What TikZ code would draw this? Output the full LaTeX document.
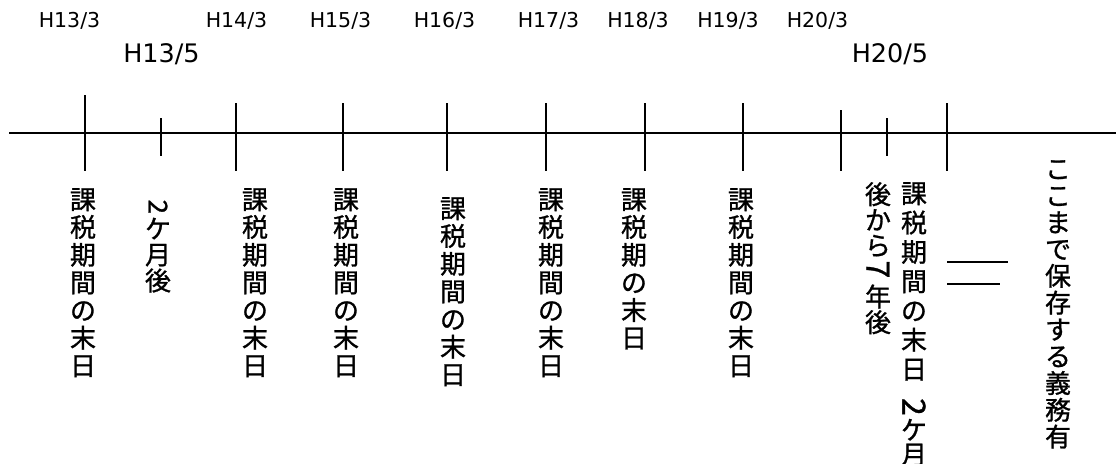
\documentclass[tikz,border=0pt]{standalone}
\usepackage{fontspec}
\usepackage{graphicx}
\newfontfamily\jpf[FakeBold=1]{Noto Sans CJK JP}
\newfontfamily\latf{DejaVu Sans}
\newcommand\rotdig[1]{\rotatebox[origin=c]{-90}{#1}}
\newcommand\bigdig[1]{\rotatebox[origin=c]{-90}{\fontsize{32}{32}\selectfont #1}}
\tikzset{
  axis/.style={line width=2.6pt},
  tickmark/.style={line width=2.4pt},
  small/.style={anchor=base, inner sep=0, font=\latf\fontsize{20.5}{20.5}\selectfont},
  big/.style={anchor=base, inner sep=0, font=\latf\fontsize{25.5}{25.5}\selectfont},
  tate/.style={anchor=north, inner sep=0, align=center, font=\jpf\fontsize{26}{27.7}\selectfont},
  eqline/.style={line width=2.2pt}
}
\begin{document}
\begin{tikzpicture}[x=1pt,y=-1pt]
\useasboundingbox (0,0) rectangle (1116,463);
% top labels
\node[small] (l1) at (69.5,27.5) {H13/3};
\node[small] (l2) at (236.5,27.5) {H14/3};
\node[small] (l3) at (340.5,27.5) {H15/3};
\node[small] (l4) at (444.5,27.5) {H16/3};
\node[small] (l5) at (548.5,27.5) {H17/3};
\node[small] (l6) at (638,27.5) {H18/3};
\node[small] (l7) at (728,27.5) {H19/3};
\node[small] (l8) at (817.5,27.5) {H20/3};
\node[big] (b1) at (161.5,62) {H13/5};
\node[big] (b2) at (890,62) {H20/5};
% axis
\draw[axis] (9,133) -- (1116,133);
% ticks
\draw[tickmark] (85,95) -- (85,170.5);
\draw[tickmark] (160.7,118) -- (160.7,155.5);
\foreach \x in {236,343,447,546,645,743,947}
  \draw[tickmark] (\x,103) -- (\x,170.5);
\draw[tickmark] (841,110) -- (841,170.5);
\draw[tickmark] (887,118) -- (887,155.5);
% vertical labels
\node[tate] (t1) at (83,188) {課\\税\\期\\間\\の\\末\\日};
\node[tate, font=\jpf\fontsize{26}{26}\selectfont] (t2) at (158,199.4) {\rotdig{2}\\[-3.9pt]ケ\\月\\後};
\node[tate] (t3) at (255,188) {課\\税\\期\\間\\の\\末\\日};
\node[tate] (t4) at (346,188) {課\\税\\期\\間\\の\\末\\日};
\node[tate] (t5) at (453,197) {課\\税\\期\\間\\の\\末\\日};
\node[tate] (t6) at (551,188) {課\\税\\期\\間\\の\\末\\日};
\node[tate] (t7) at (634,188) {課\\税\\期\\の\\末\\日};
\node[tate] (t8) at (741,188) {課\\税\\期\\間\\の\\末\\日};
\node[tate, font=\jpf\fontsize{26}{25.6}\selectfont] (t9) at (878,182) {後\\か\\ら\\\bigdig{7}\\年\\後};
\node[tate, font=\jpf\fontsize{26}{29.3}\selectfont] (t10) at (914,182) {課\\税\\期\\間\\の\\末\\日\\[10.3pt]\bigdig{2}\\[-8.3pt]ケ\\[-4.7pt]月};
\node[tate, font=\jpf\fontsize{26}{26.8}\selectfont] (t11) at (1058,160) {こ\\こ\\ま\\で\\保\\存\\す\\る\\義\\務\\有};
% equals sign
\draw[eqline] (947,262) -- (1008,262);
\draw[eqline] (947,284) -- (1000,284);
\end{tikzpicture}
\end{document}
